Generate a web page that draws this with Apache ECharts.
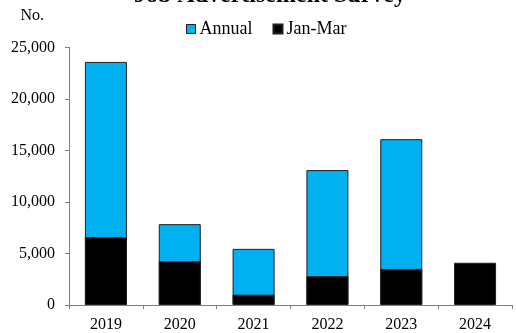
<!DOCTYPE html>
<html>
<head>
<meta charset="utf-8">
<script src="https://cdn.jsdelivr.net/npm/echarts@6/dist/echarts.min.js"></script>
<style>
  html, body { margin: 0; padding: 0; background: #fff; }
  #chart { width: 516px; height: 333px; }
</style>
</head>
<body>
<div id="chart"></div>
<script>
// Survey counts per year: full-year totals and the January–March portion
const years = ['2019', '2020', '2021', '2022', '2023', '2024'];
const annual = [23600, 7850, 5450, 13100, 16100, null];
const janMar = [6600, 4250, 1000, 2800, 3500, 4100];
const yTicks = { min: 0, max: 25000, interval: 5000 };

const FONT = '"Liberation Serif", "Times New Roman", serif';
const AXIS_GREY = '#7f7f7f';

const chart = echarts.init(document.getElementById('chart'), null, { renderer: 'canvas' });

chart.setOption({
  animation: false,
  backgroundColor: '#ffffff',
  title: {
    text: 'Job Advertisement Survey',
    left: 134,
    top: -16,
    padding: 0,
    textStyle: { fontFamily: FONT, fontSize: 24, fontWeight: 'bold', color: '#000' }
  },
  legend: {
    left: 186,
    top: 20,
    padding: 0,
    itemWidth: 9,
    itemHeight: 9,
    itemGap: 20,
    icon: 'rect',
    textStyle: { fontFamily: FONT, fontSize: 18, color: '#000', padding: [0, 0, 0, -1] },
    data: [
      { name: 'Annual', itemStyle: { color: '#00b0f0', borderColor: '#1f1f1f', borderWidth: 1 } },
      { name: 'Jan-Mar', itemStyle: { color: '#000000' } }
    ]
  },
  grid: { left: 69, right: 4, top: 47.5, bottom: 26, containLabel: false },
  xAxis: {
    type: 'category',
    data: years,
    boundaryGap: true,
    axisLine: { show: true, lineStyle: { color: AXIS_GREY, width: 1 } },
    axisTick: { show: true, alignWithLabel: false, length: 4, lineStyle: { color: AXIS_GREY } },
    axisLabel: { fontFamily: FONT, fontSize: 16, color: '#000', margin: 12 },
    splitLine: { show: false }
  },
  yAxis: {
    type: 'value',
    min: yTicks.min,
    max: yTicks.max,
    interval: yTicks.interval,
    name: 'No.',
    nameLocation: 'end',
    nameGap: 24,
    nameTextStyle: { fontFamily: FONT, fontSize: 16, color: '#000', align: 'right', padding: [0, 25, 0, 0] },
    axisLine: { show: true, lineStyle: { color: AXIS_GREY, width: 1 } },
    axisTick: { show: true, inside: false, length: 4, lineStyle: { color: AXIS_GREY } },
    axisLabel: {
      fontFamily: FONT, fontSize: 16, color: '#000', margin: 14,
      formatter: v => v.toLocaleString('en-US')
    },
    splitLine: { show: false }
  },
  series: [
    {
      name: 'Annual',
      type: 'bar',
      data: annual,
      barWidth: 42,
      barGap: '-100%',
      itemStyle: { color: '#00b0f0', borderColor: '#1f1f1f', borderWidth: 1 },
      z: 2
    },
    {
      name: 'Jan-Mar',
      type: 'bar',
      data: janMar,
      barWidth: 42,
      barGap: '-100%',
      itemStyle: { color: '#000000', borderColor: '#1f1f1f', borderWidth: 1 },
      z: 3
    }
  ]
});
</script>
</body>
</html>
